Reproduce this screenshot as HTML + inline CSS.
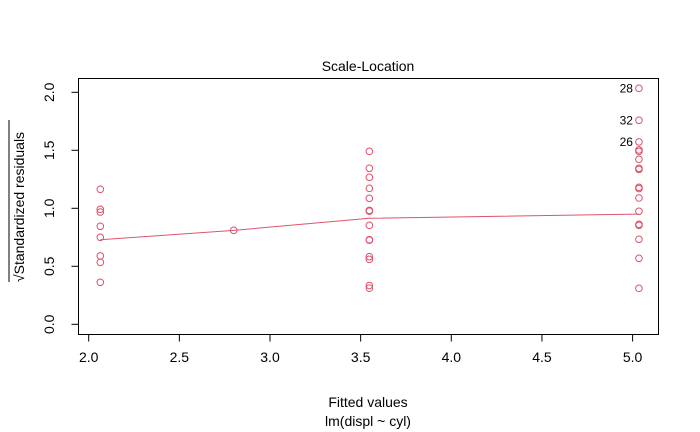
<!DOCTYPE html>
<html><head><meta charset="utf-8"><style>body{margin:0;background:#fff}svg{display:block;font-family:"Liberation Sans",Arial,sans-serif}</style></head>
<body>
<svg id="chart" width="700" height="432" viewBox="0 0 700 432" xmlns="http://www.w3.org/2000/svg">
<rect width="700" height="432" fill="#fff"/>
<text x="368" y="71" font-size="14" text-anchor="middle">Scale-Location</text>
<rect x="78.5" y="78.5" width="580" height="256" fill="none" stroke="#000" stroke-width="1"/>
<g id="xaxis"></g>
<g id="yaxis"></g>
<text x="368" y="407" font-size="14" text-anchor="middle">Fitted values</text>
<text x="368" y="426" font-size="14" text-anchor="middle">lm(displ ~ cyl)</text>
<g transform="translate(24,207) rotate(-90)">
<text x="0" y="0" font-size="14" text-anchor="middle">√Standardized residuals</text>
<line x1="-75" y1="-15" x2="87" y2="-15" stroke="#000" stroke-width="1"/>
</g>
<g id="smooth"></g>
<g id="points"></g>
<g id="labels"></g>
</svg>
<script>
const xTicks = [2.0, 2.5, 3.0, 3.5, 4.0, 4.5, 5.0];
const yTicks = [0.0, 0.5, 1.0, 1.5, 2.0];
const fittedX = [2.064,2.064,2.064,2.064,2.064,2.064,2.064,2.064,
 2.80,
 3.548,3.548,3.548,3.548,3.548,3.548,3.548,3.548,3.548,3.548,3.548,3.548,3.548,3.548,3.548,
 5.035,5.035,5.035,5.035,5.035,5.035,5.035,5.035,5.035,5.035,5.035,5.035,5.035,5.035,5.035,5.035,5.035];
const sqrtStdRes = [1.164,0.991,0.968,0.845,0.75,0.589,0.534,0.362,
 0.81,
 1.491,1.345,1.267,1.172,1.086,0.979,0.975,0.853,0.729,0.725,0.583,0.560,0.334,0.311,0.982,
 2.034,1.759,1.572,1.503,1.49,1.422,1.345,1.335,1.181,1.17,1.089,0.974,0.862,0.853,0.733,0.569,0.310];
const smoothX = [2.064, 2.80, 3.548, 5.035];
const smoothY = [0.729, 0.81, 0.914, 0.95];
const labelIdx = [24, 25, 26];
const labelText = ["28", "32", "26"];

const NS = "http://www.w3.org/2000/svg";
const X = v => 88.7 + 181.3 * (v - 2);
const Y = v => 324.3 - 116 * v;
const col = "#DF536B";
function mk(tag, attrs, parent){const e=document.createElementNS(NS,tag);for(const k in attrs)e.setAttribute(k,attrs[k]);parent.appendChild(e);return e;}

const xa = document.getElementById('xaxis');
mk('line',{x1:X(xTicks[0]),x2:X(xTicks[xTicks.length-1]),y1:334.5,y2:334.5,stroke:'#000'},xa);
xTicks.forEach(t=>{
  const l=mk('line',{x1:X(t),x2:X(t),y1:334.5,y2:341.5,stroke:'#000'},xa);
  
  
  const tx=mk('text',{x:X(t),y:362,'font-size':14,'text-anchor':'middle'},xa);
  tx.textContent=t.toFixed(1);
  
  
});
const ya = document.getElementById('yaxis');
mk('line',{x1:78.5,x2:78.5,y1:Y(yTicks[0]),y2:Y(yTicks[yTicks.length-1]),stroke:'#000'},ya);
yTicks.forEach(t=>{
  const l=mk('line',{x1:71.5,x2:78.5,y1:Y(t),y2:Y(t),stroke:'#000'},ya);
  
  
  const tx=mk('text',{x:0,y:0,'font-size':14,'text-anchor':'middle',transform:`translate(54,${Y(t)}) rotate(-90)`},ya);
  tx.textContent=t.toFixed(1);
  
  
});
const sm=document.getElementById('smooth');
const pl=mk('polyline',{points:smoothX.map((v,i)=>X(v)+','+Y(smoothY[i])).join(' '),fill:'none',stroke:col,'stroke-width':1},sm);


const pg=document.getElementById('points');
sqrtStdRes.forEach((v,i)=>{
  const c=mk('circle',{cx:X(fittedX[i]),cy:Y(v),r:3.3,fill:'none',stroke:col,'stroke-width':1},pg);
  
  
});
const lg=document.getElementById('labels');
labelIdx.forEach((idx,k)=>{
  const t=mk('text',{x:X(fittedX[idx])-6,y:Y(sqrtStdRes[idx])+4,'font-size':12,'text-anchor':'end'},lg);
  t.textContent=labelText[k];
  
  
});
</script>
</body></html>
